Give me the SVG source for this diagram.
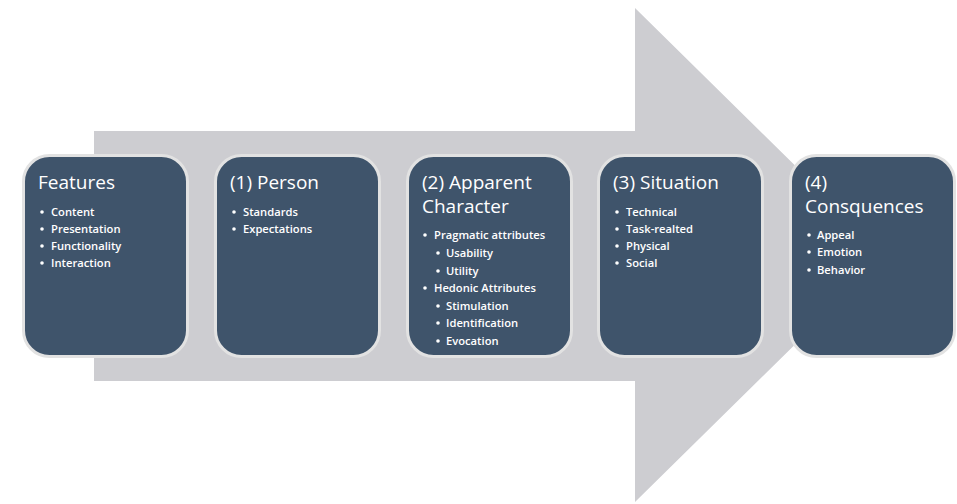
<svg xmlns="http://www.w3.org/2000/svg" width="957" height="504" viewBox="0 0 957 504">
  <style>
    .box { fill: #3f546b; stroke: #e2e2e2; stroke-width: 3; }
    .title { font-family: "Open Sans", "Liberation Sans", sans-serif; font-size: 19px; fill: #ffffff; }
    .item { font-family: "Open Sans", "Liberation Sans", sans-serif; font-size: 11.2px; font-weight: 600; fill: #ffffff; }
    .dot { fill: #ffffff; }
  </style>
  <rect width="957" height="504" fill="#ffffff"/>

  <!-- large background arrow -->
  <g id="connectors">
    <polygon points="94,131 635,131 635,8 886,255 635,502 635,381 94,381" fill="#cdcdd1"/>
  </g>

  <g id="features">
    <rect class="box" x="23.5" y="155.5" width="164" height="201" rx="26"/>
    <text class="title" x="38" y="189">Features</text>
    <circle class="dot" cx="42" cy="212" r="1.8"/>
    <text class="item" x="51" y="216">Content</text>
    <circle class="dot" cx="42" cy="229" r="1.8"/>
    <text class="item" x="51" y="233">Presentation</text>
    <circle class="dot" cx="42" cy="246" r="1.8"/>
    <text class="item" x="51" y="250">Functionality</text>
    <circle class="dot" cx="42" cy="263" r="1.8"/>
    <text class="item" x="51" y="267">Interaction</text>
  </g>

  <g id="person">
    <rect class="box" x="215.5" y="155.5" width="164" height="201" rx="26"/>
    <text class="title" x="230" y="189">(1) Person</text>
    <circle class="dot" cx="234" cy="212" r="1.8"/>
    <text class="item" x="243" y="216">Standards</text>
    <circle class="dot" cx="234" cy="229" r="1.8"/>
    <text class="item" x="243" y="233">Expectations</text>
  </g>

  <g id="apparent-character">
    <rect class="box" x="407.5" y="155.5" width="164" height="201" rx="26"/>
    <text class="title" x="422" y="189">(2) Apparent</text>
    <text class="title" x="422" y="213">Character</text>
    <circle class="dot" cx="425" cy="235" r="1.8"/>
    <text class="item" x="434" y="239">Pragmatic attributes</text>
    <circle class="dot" cx="438" cy="253" r="1.8"/>
    <text class="item" x="446" y="257">Usability</text>
    <circle class="dot" cx="438" cy="271" r="1.8"/>
    <text class="item" x="446" y="275">Utility</text>
    <circle class="dot" cx="425" cy="288" r="1.8"/>
    <text class="item" x="434" y="292">Hedonic Attributes</text>
    <circle class="dot" cx="438" cy="306" r="1.8"/>
    <text class="item" x="446" y="310">Stimulation</text>
    <circle class="dot" cx="438" cy="323" r="1.8"/>
    <text class="item" x="446" y="327">Identification</text>
    <circle class="dot" cx="438" cy="341" r="1.8"/>
    <text class="item" x="446" y="345">Evocation</text>
  </g>

  <g id="situation">
    <rect class="box" x="598.5" y="155.5" width="164" height="201" rx="26"/>
    <text class="title" x="613" y="189">(3) Situation</text>
    <circle class="dot" cx="617" cy="212" r="1.8"/>
    <text class="item" x="626" y="216">Technical</text>
    <circle class="dot" cx="617" cy="229" r="1.8"/>
    <text class="item" x="626" y="233">Task-realted</text>
    <circle class="dot" cx="617" cy="246" r="1.8"/>
    <text class="item" x="626" y="250">Physical</text>
    <circle class="dot" cx="617" cy="263" r="1.8"/>
    <text class="item" x="626" y="267">Social</text>
  </g>

  <g id="consequences">
    <rect class="box" x="790.5" y="155.5" width="164" height="201" rx="26"/>
    <text class="title" x="805" y="189">(4)</text>
    <text class="title" x="805" y="213">Consquences</text>
    <circle class="dot" cx="809" cy="235" r="1.8"/>
    <text class="item" x="817" y="239">Appeal</text>
    <circle class="dot" cx="809" cy="252" r="1.8"/>
    <text class="item" x="817" y="256">Emotion</text>
    <circle class="dot" cx="809" cy="270" r="1.8"/>
    <text class="item" x="817" y="274">Behavior</text>
  </g>
</svg>
